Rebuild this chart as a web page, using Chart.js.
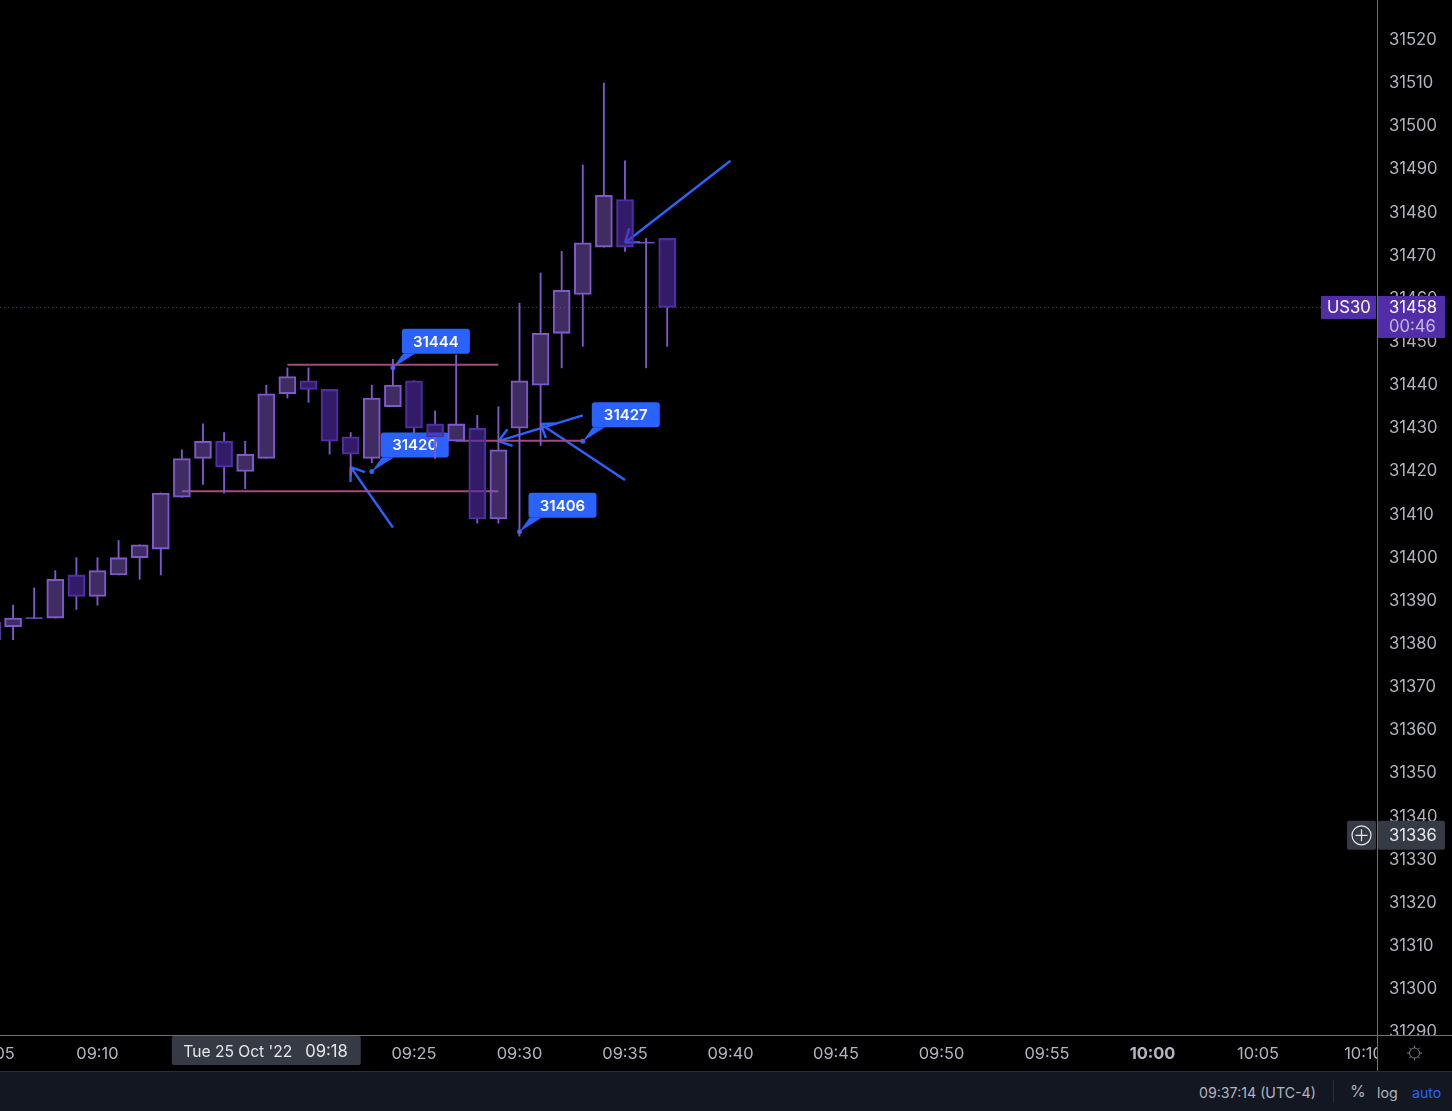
<!DOCTYPE html>
<html>
<head>
<meta charset="utf-8">
<title>US30</title>
<script src="https://cdn.jsdelivr.net/npm/chart.js@4/dist/chart.umd.min.js"></script>
<style>
  html, body { margin: 0; padding: 0; background: #000; overflow: hidden; }
  #wrap { position: relative; width: 1452px; height: 1111px; font-family: Inter, sans-serif; }
  canvas { display: block; }
  #barra { position: absolute; left: 0; top: 1071px; width: 1452px; height: 40px; background: #131722; border-top: 1px solid #2a2e39; box-sizing: border-box; color: #b2b5be; font-size: 14.2px; }
  #barra span { position: absolute; top: 12px; line-height: 17px; white-space: nowrap; }
  #barra i { position: absolute; left: 1333px; top: 8px; width: 1px; height: 23px; background: #2a2e39; }
</style>
</head>
<body>
<div id="wrap">
  <canvas id="grafico" width="1452" height="1071"></canvas>
  <div id="barra">
    <span style="left:1199px">09:37:14 (UTC-4)</span>
    <i></i>
    <span style="left:1350px;font-size:16px;top:11px">%</span>
    <span style="left:1377px">log</span>
    <span style="left:1412px;color:#2962ff">auto</span>
  </div>
</div>
<script>
/* ============================================================
   DADOS (minutos depois das 09:00)
============================================================ */
const minutos = [5, 6, 7, 8, 9, 10, 11, 12, 13, 14, 15, 16, 17, 18, 19, 20, 21, 22, 23, 24, 25, 26, 27, 28, 29, 30, 31, 32, 33, 34, 35, 36, 37];
const aberturas = [31381, 31384, 31386, 31386, 31396, 31391, 31396, 31400, 31402, 31414, 31423, 31427, 31420, 31423, 31438, 31441, 31439, 31428, 31423, 31435, 31441, 31431, 31427, 31430, 31409, 31430, 31440, 31452, 31461, 31472, 31483, 31473, 31474];
const maximos = [31385, 31389, 31393, 31397, 31400, 31400, 31404, 31403, 31415, 31425, 31431, 31429, 31427, 31440, 31444, 31444, 31439, 31429, 31440, 31446, 31441, 31434, 31447, 31433, 31435, 31459, 31466, 31471, 31491, 31510, 31492, 31474, 31474];
const minimos = [31381, 31381, 31386, 31386, 31388, 31389, 31396, 31395, 31396, 31414, 31417, 31415, 31416, 31423, 31437, 31436, 31424, 31419, 31422, 31435, 31429, 31423, 31427, 31408, 31408, 31405, 31426, 31444, 31449, 31472, 31471, 31444, 31449];
const fechamentos = [31385, 31386, 31386, 31395, 31391, 31397, 31400, 31403, 31415, 31423, 31427, 31421, 31424, 31438, 31442, 31439, 31427, 31424, 31437, 31440, 31430, 31428, 31431, 31409, 31425, 31441, 31452, 31462, 31473, 31484, 31472, 31473, 31458];

const ticksTempo = [5, 10, 15, 20, 25, 30, 35, 40, 45, 50, 55, 60, 65, 70];
const rotulosTempo = ["09:05", "09:10", "09:15", "09:20", "09:25", "09:30", "09:35", "09:40", "09:45", "09:50", "09:55", "10:00", "10:05", "10:10"];
const ticksPreco = [31290, 31300, 31310, 31320, 31330, 31340, 31350, 31360, 31370, 31380, 31390, 31400, 31410, 31420, 31430, 31440, 31450, 31460, 31470, 31480, 31490, 31500, 31510, 31520];

const precoAtual = 31458;
const precoCursor = 31336;
const minutoCursor = 18;

// desenhos: [minuto inicial, preco inicial, minuto final, preco final]
const linhasRosa = [[19, 31444.7, 29, 31444.7], [14, 31415.4, 29, 31415.4], [27, 31427.1, 33, 31427.1]];
const setas = [[24, 31407, 22, 31421], [33, 31433, 29, 31427], [35, 31418, 31, 31431], [40, 31492, 35, 31473]];
// etiquetas: [minuto, preco]
const etiquetas = [[24, 31444], [23, 31420], [33, 31427], [30, 31406]];

/* ============================================================
   CORES
============================================================ */
const corPavio = "#7f58cc";
const fundoAlta = "rgba(126,87,194,0.5)";
const bordaAlta = "#7f58cc";
const fundoBaixa = "rgba(81,45,168,0.62)";
const bordaBaixa = "#512da8";
const azul = "#2962ff";
const rosa = "#a04b7a";
const roxoPreco = "#512da8";
const cinzaCursor = "#363a45";
const corTexto = "#b2b5be";
const fonte = "Inter, sans-serif";

const corpos = minutos.map((m, i) => ({ x: m, y: [aberturas[i], fechamentos[i]] }));
const pavioCima = minutos.map((m, i) => ({ x: m, y: [Math.max(aberturas[i], fechamentos[i]), maximos[i]] }));
const pavioBaixo = minutos.map((m, i) => ({ x: m, y: [minimos[i], Math.min(aberturas[i], fechamentos[i])] }));
const dojis = minutos.filter((m, i) => aberturas[i] === fechamentos[i]).map((m) => ({ x: m, y: aberturas[minutos.indexOf(m)] }));

/* ============================================================
   DESENHOS ABAIXO DAS VELAS
============================================================ */
function desenharSeta(ctx, x0, y0, x1, y1) {
  const ang = Math.atan2(y0 - y1, x0 - x1);
  ctx.strokeStyle = azul;
  ctx.lineWidth = 2.4;
  ctx.beginPath();
  ctx.moveTo(x0, y0);
  ctx.lineTo(x1, y1);
  [-0.62, 0.62].forEach((d) => {
    ctx.moveTo(x1 + 15 * Math.cos(ang + d), y1 + 15 * Math.sin(ang + d));
    ctx.lineTo(x1, y1);
  });
  ctx.stroke();
}

function desenharEtiqueta(ctx, px, py, texto) {
  const x = px + 9, y = py - 39, l = 68, a = 25;
  ctx.fillStyle = azul;
  ctx.beginPath();
  ctx.moveTo(px, py);
  ctx.lineTo(x + 1, y + a);
  ctx.lineTo(x + 13, y + a);
  ctx.closePath();
  ctx.fill();
  ctx.beginPath();
  ctx.roundRect(x, y, l, a, 3);
  ctx.fill();
  ctx.beginPath();
  ctx.arc(px, py, 2.5, 0, Math.PI * 2);
  ctx.fill();
  ctx.fillStyle = "#ffffff";
  ctx.font = "600 15px " + fonte;
  ctx.textAlign = "center";
  ctx.textBaseline = "middle";
  ctx.fillText(texto, x + l / 2, y + a / 2 + 1);
}

const pluginDesenhos = {
  id: "desenhos",
  beforeDatasetsDraw(chart) {
    const { ctx, scales: { x, y } } = chart;
    ctx.save();
    // linha pontilhada do preco atual
    ctx.strokeStyle = roxoPreco;
    ctx.lineWidth = 1;
    ctx.setLineDash([1, 3]);
    ctx.beginPath();
    ctx.moveTo(0, y.getPixelForValue(precoAtual));
    ctx.lineTo(1321, y.getPixelForValue(precoAtual));
    ctx.stroke();
    ctx.setLineDash([]);
    setas.forEach((s) => desenharSeta(ctx, x.getPixelForValue(s[0]), y.getPixelForValue(s[1]), x.getPixelForValue(s[2]), y.getPixelForValue(s[3])));
    etiquetas.forEach((e) => desenharEtiqueta(ctx, x.getPixelForValue(e[0]), y.getPixelForValue(e[1]), String(e[1])));
    ctx.restore();
  },
  afterDraw(chart) {
    const { ctx, scales: { x, y } } = chart;
    ctx.save();
    // canto dos eixos: corta o 10:10 e o 31290
    ctx.fillStyle = "#000";
    ctx.fillRect(1377, 1035, 75, 36);
    // linhas dos eixos
    ctx.fillStyle = "#6f7074";
    ctx.fillRect(1377, 0, 1, 1071);
    ctx.fillRect(0, 1035, 1452, 1);

    ctx.textBaseline = "middle";
    // etiquetas do preco atual
    const yp = y.getPixelForValue(precoAtual);
    ctx.fillStyle = roxoPreco;
    ctx.fillRect(1321, yp - 11.5, 55, 23);
    ctx.fillRect(1378, yp - 11.5, 67, 42);
    ctx.font = "16.6px " + fonte;
    ctx.textAlign = "left";
    ctx.fillStyle = "#ffffff";
    ctx.fillText("US30", 1327, yp + 0.5);
    ctx.fillText(String(precoAtual), 1389, yp + 0.5);
    ctx.fillStyle = "#c5b8e6";
    ctx.fillText("00:46", 1389, yp + 19.5);

    // cursor no eixo de preco
    const yc = y.getPixelForValue(precoCursor) + 1.5;
    ctx.fillStyle = cinzaCursor;
    ctx.beginPath();
    ctx.roundRect(1347, yc - 14.5, 29, 29, 2);
    ctx.roundRect(1378, yc - 14.5, 67, 29, 2);
    ctx.fill();
    ctx.fillStyle = "#e6e7ea";
    ctx.fillText(String(precoCursor), 1389, yc + 0.5);
    ctx.strokeStyle = "#e6e7ea";
    ctx.lineWidth = 1.2;
    ctx.beginPath();
    ctx.arc(1361.5, yc, 9.5, 0, Math.PI * 2);
    ctx.moveTo(1355.5, yc);
    ctx.lineTo(1367.5, yc);
    ctx.moveTo(1361.5, yc - 6);
    ctx.lineTo(1361.5, yc + 6);
    ctx.stroke();

    // cursor no eixo de tempo
    const xc = x.getPixelForValue(minutoCursor);
    ctx.fillStyle = cinzaCursor;
    ctx.beginPath();
    ctx.roundRect(xc - 94.5, 1036, 189, 29, 2);
    ctx.fill();
    ctx.fillStyle = "#e6e7ea";
    ctx.font = "15.6px " + fonte;
    ctx.fillText("Tue 25 Oct '22", xc - 83, 1052);
    ctx.font = "16.6px " + fonte;
    ctx.fillText("09:18", xc + 39, 1052);

    // engrenagem
    ctx.strokeStyle = "#787b86";
    ctx.lineWidth = 1;
    ctx.beginPath();
    ctx.arc(1414.5, 1053, 5, 0, Math.PI * 2);
    for (let a = 0; a < 8; a++) {
      const ang = (a * Math.PI) / 4;
      ctx.moveTo(1414.5 + 5 * Math.cos(ang), 1053 + 5 * Math.sin(ang));
      ctx.lineTo(1414.5 + 7.5 * Math.cos(ang), 1053 + 7.5 * Math.sin(ang));
    }
    ctx.stroke();
    ctx.restore();
  },
};

/* ============================================================
   GRAFICO
============================================================ */
const corposAlta = (ctx) => aberturas[ctx.dataIndex] <= fechamentos[ctx.dataIndex];

new Chart(document.getElementById("grafico"), {
  type: "bar",
  data: {
    datasets: [
      {
        label: "Corpo",
        data: corpos,
        order: 1,
        barThickness: 17,
        borderWidth: 1.4,
        borderSkipped: false,
        backgroundColor: (c) => (corposAlta(c) ? fundoAlta : fundoBaixa),
        borderColor: (c) => (corposAlta(c) ? bordaAlta : bordaBaixa),
      },
      { label: "Pavio alto", data: pavioCima, order: 2, barThickness: 1.2, backgroundColor: corPavio },
      { label: "Pavio baixo", data: pavioBaixo, order: 2, barThickness: 1.2, backgroundColor: corPavio },
      {
        type: "line",
        label: "Doji",
        data: dojis,
        order: 2,
        showLine: false,
        pointStyle: "line",
        pointRadius: 8.5,
        pointBorderWidth: 1.3,
        pointBorderColor: corPavio,
      },
      ...linhasRosa.map((l, i) => ({
        type: "line",
        label: "Linha " + (i + 1),
        data: [{ x: l[0], y: l[1] }, { x: l[2], y: l[3] }],
        order: 3,
        borderColor: rosa,
        borderWidth: 2,
        pointRadius: 0,
      })),
    ],
  },
  options: {
    responsive: false,
    animation: false,
    devicePixelRatio: 1,
    grouped: false,
    layout: { padding: 0, autoPadding: false },
    plugins: { legend: { display: false }, tooltip: { enabled: false } },
    scales: {
      x: {
        type: "linear",
        offset: false,
        min: 5.38,
        max: 70.64,
        grid: { display: false },
        border: { display: false },
        afterBuildTicks(s) { s.ticks = ticksTempo.map((v) => ({ value: v })); },
        afterFit(s) { s.paddingLeft = 0; s.paddingRight = 0; s.height = 36; },
        ticks: {
          autoSkip: false,
          maxRotation: 0,
          minRotation: 0,
          padding: 1,
          color: corTexto,
          font: (c) => ({ family: fonte, size: 16.4, weight: c.tick && c.tick.value === 60 ? "bold" : "normal" }),
          callback: (v) => rotulosTempo[ticksTempo.indexOf(v)],
        },
      },
      y: {
        position: "right",
        min: 31289.36,
        max: 31529.27,
        grid: { display: false, drawTicks: false },
        border: { display: false },
        afterBuildTicks(s) { s.ticks = ticksPreco.map((v) => ({ value: v })); },
        afterFit(s) { s.paddingTop = 0; s.paddingBottom = 0; s.width = 75; },
        ticks: {
          autoSkip: false,
          padding: 12,
          color: corTexto,
          font: { family: fonte, size: 16.6 },
          callback: (v) => String(v),
        },
      },
    },
  },
  plugins: [pluginDesenhos],
});
</script>
</body>
</html>
